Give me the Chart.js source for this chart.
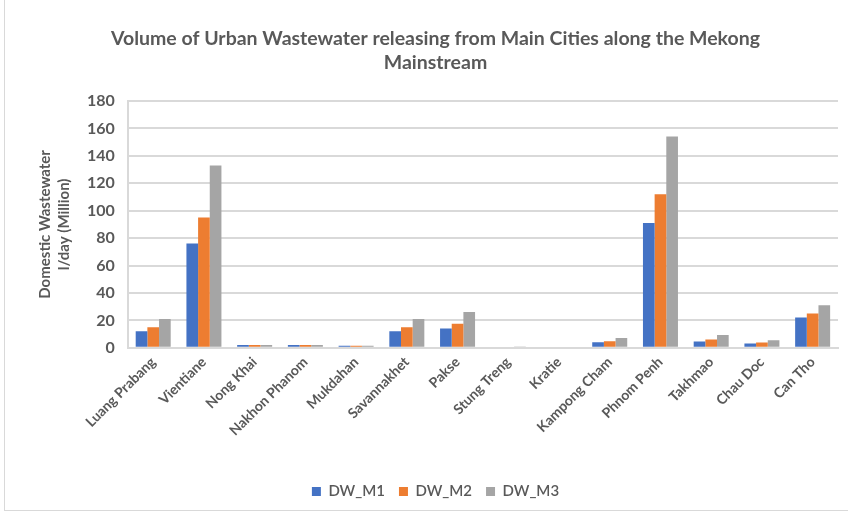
<!DOCTYPE html>
<html>
<head>
<meta charset="utf-8">
<script src="https://cdn.jsdelivr.net/npm/chart.js@4"></script>
<style>
  body { margin: 0; background: #fff; }
  #wrap { position: absolute; left: 0; top: 0; width: 848px; height: 515px; }
  #frame { position: absolute; left: 4px; top: -2px; width: 900px; height: 513px; border: 1px solid #d9d9d9; box-sizing: border-box; }
</style>
</head>
<body>
<div id="wrap">
  <div id="frame"></div>
  <canvas id="canvas-chart" width="848" height="515"></canvas>
</div>
<script>
    // chart data
    var cities = ["Luang Prabang", "Vientiane", "Nong Khai", "Nakhon Phanom", "Mukdahan", "Savannakhet", "Pakse",
                  "Stung Treng", "Kratie", "Kampong Cham", "Phnom Penh", "Takhmao", "Chau Doc", "Can Tho"];
    var dwM1 = [12, 76, 2, 2, 1.5, 12, 14, 0, 0, 4, 91, 4.6, 3.1, 22];
    var dwM2 = [15, 95, 2, 2, 1.5, 15, 17.5, 0, 0, 4.7, 112, 6, 3.9, 25];
    var dwM3 = [21, 133, 2, 2, 1.5, 21, 26, 1, 0, 7.2, 154, 9.3, 5.4, 31];
    var yTicks = [0, 20, 40, 60, 80, 100, 120, 140, 160, 180];

    var grey = "#595959";
    var fontName = "Lato, 'Open Sans', sans-serif";

    var ctx = document.getElementById("canvas-chart").getContext("2d");
    window.myBar = new Chart(ctx, {
        type: 'bar',
        data: {
            labels: cities,
            datasets: [
                { label: 'DW_M1', backgroundColor: "#4472c4", data: dwM1 },
                { label: 'DW_M2', backgroundColor: "#ed7d31", data: dwM2 },
                { label: 'DW_M3', backgroundColor: "#a5a5a5", data: dwM3 }
            ]
        },
        options: {
            responsive: false,
            animation: false,
            layout: { padding: { left: 33, right: 10, top: 27, bottom: 6 } },
            datasets: { bar: { categoryPercentage: 0.69, barPercentage: 1.0 } },
            plugins: {
                title: {
                    display: true,
                    text: ["Volume of Urban Wastewater releasing from Main Cities along the Mekong", "Mainstream"],
                    color: grey,
                    font: { family: fontName, size: 19.5, weight: 'bold', lineHeight: 1.23 },
                    padding: { top: 0, bottom: 26 }
                },
                legend: {
                    position: 'bottom',
                    labels: {
                        color: grey,
                        font: { family: fontName, size: 15, weight: '600' },
                        boxWidth: 9,
                        boxHeight: 9,
                        padding: 14
                    }
                },
                tooltip: { enabled: false }
            },
            scales: {
                x: {
                    grid: { display: false, drawTicks: false },
                    border: { color: "#d9d9d9", width: 2 },
                    ticks: {
                        color: grey,
                        font: { family: fontName, size: 14, weight: 'bold' },
                        maxRotation: 45,
                        minRotation: 45,
                        autoSkip: false,
                        padding: 6
                    },
                    afterFit: function(scale) { scale.height += 25; }
                },
                y: {
                    min: 0,
                    max: 180,
                    afterBuildTicks: function(axis) {
                        axis.ticks = yTicks.map(function(v) { return { value: v }; });
                    },
                    grid: { color: "#d9d9d9", lineWidth: 2, drawTicks: false },
                    border: { color: "#d9d9d9", width: 2 },
                    ticks: {
                        color: grey,
                        font: { family: fontName, size: 16, weight: 'bold' },
                        padding: 13
                    },
                    title: {
                        display: true,
                        text: ["Domestic Wastewater", "l/day (Million)"],
                        color: grey,
                        font: { family: fontName, size: 15, weight: 'bold', lineHeight: 1.3 },
                        padding: { top: 2, bottom: 0 }
                    }
                }
            }
        }
    });
</script>
</body>
</html>
